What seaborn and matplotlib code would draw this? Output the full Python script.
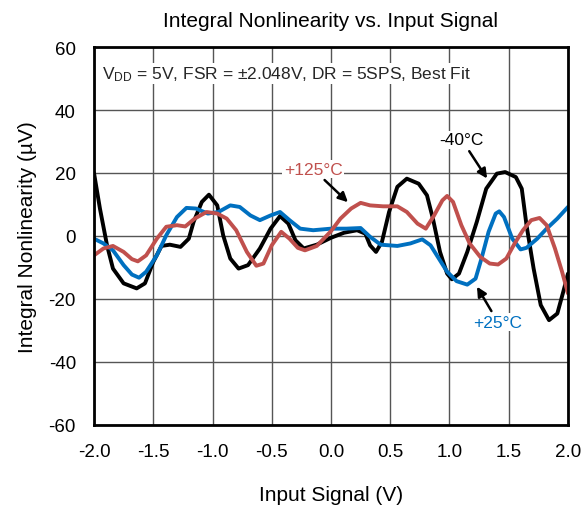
import pandas as pd
import seaborn as sns
import matplotlib.pyplot as plt

# Values (input signal in V, INL in uV)
x_m40 = [-2.00, -1.95, -1.89, -1.84, -1.75, -1.64, -1.57, -1.50, -1.43, -1.36,
         -1.27, -1.20, -1.16, -1.09, -1.03, -0.96, -0.91, -0.85, -0.78, -0.70,
         -0.60, -0.51, -0.43, -0.36, -0.30, -0.23, -0.12, 0.00, 0.11, 0.22,
         0.29, 0.33, 0.38, 0.43, 0.49, 0.56, 0.64, 0.74, 0.81, 0.86, 0.92,
         0.98, 1.02, 1.08, 1.15, 1.23, 1.31, 1.40, 1.47, 1.56, 1.61, 1.65,
         1.71, 1.77, 1.84, 1.91, 1.96, 2.00]
y_m40 = [20.0, 8.7, -3.0, -10.4, -15.1, -16.7, -15.1, -8.3, -3.2, -2.8,
         -3.5, -0.9, 4.4, 10.8, 13.1, 9.7, 0.2, -7.2, -10.4, -9.3,
         -4.0, 2.3, 6.3, 3.9, -1.4, -4.0, -2.8, -0.6, 1.0, 1.8,
         0.7, -3.0, -5.1, -1.9, 7.6, 15.6, 18.2, 16.6, 12.9, 5.5, -5.1,
         -12.0, -13.8, -12.0, -5.1, 4.4, 15.0, 19.8, 20.3, 18.7, 15.0, 3.4,
         -10.4, -22.0, -26.8, -24.7, -17.8, -12.0]

x_25 = [-2.00, -1.92, -1.84, -1.75, -1.68, -1.62, -1.56, -1.47, -1.39, -1.30,
        -1.22, -1.14, -1.04, -0.95, -0.85, -0.77, -0.68, -0.60, -0.51, -0.43,
        -0.35, -0.26, -0.15, 0.00, 0.13, 0.25, 0.33, 0.42, 0.56, 0.67,
        0.77, 0.84, 0.91, 0.98, 1.06, 1.15, 1.22, 1.27, 1.33, 1.39,
        1.42, 1.46, 1.53, 1.60, 1.65, 1.74, 1.82, 1.91, 2.00]
y_25 = [-0.9, -2.4, -4.6, -9.3, -12.3, -13.3, -11.4, -6.2, 0.2, 6.0,
        8.9, 8.7, 7.1, 7.6, 9.7, 9.2, 6.5, 5.0, 6.5, 7.6,
        5.0, 2.3, 1.8, 2.3, 2.3, 2.5, -0.3, -2.8, -3.2, -2.4,
        -1.1, -3.0, -7.2, -11.4, -14.4, -15.5, -13.6, -7.2, 1.3, 7.1,
        7.8, 6.0, -0.9, -4.3, -3.8, -0.9, 2.3, 5.5, 9.2]

x_125 = [-2.00, -1.92, -1.84, -1.75, -1.68, -1.63, -1.56, -1.47, -1.39, -1.30,
         -1.23, -1.15, -1.05, -0.96, -0.88, -0.80, -0.71, -0.63, -0.57, -0.50,
         -0.42, -0.35, -0.28, -0.22, -0.12, 0.00, 0.08, 0.17, 0.25, 0.33,
         0.44, 0.56, 0.64, 0.73, 0.80, 0.87, 0.94, 0.98, 1.03, 1.10,
         1.17, 1.26, 1.34, 1.41, 1.48, 1.55, 1.62, 1.69, 1.76, 1.82,
         1.89, 1.95, 2.00]
y_125 = [-6.2, -4.0, -3.2, -5.1, -7.4, -8.1, -6.2, -0.9, 2.9, 3.4,
         3.0, 5.5, 7.6, 7.1, 5.5, 1.8, -5.1, -9.5, -8.8, -3.0,
         1.3, -0.9, -3.8, -4.6, -3.2, 1.5, 5.5, 8.7, 10.5, 9.7,
         9.4, 9.4, 7.6, 3.9, 2.3, 6.5, 11.3, 12.7, 10.8, 3.4,
         -2.4, -6.7, -8.8, -9.1, -7.2, -2.4, 1.8, 5.0, 5.7, 3.4,
         -4.0, -11.4, -18.3]

series = ['-40°C', '+25°C', '+125°C']
colors = ['#000000', '#0070C0', '#C0504D']

df = pd.concat([
    pd.DataFrame({'v': x_m40, 'inl': y_m40, 'temp': '-40°C'}),
    pd.DataFrame({'v': x_25, 'inl': y_25, 'temp': '+25°C'}),
    pd.DataFrame({'v': x_125, 'inl': y_125, 'temp': '+125°C'}),
])

sns.set_theme(style='white')
plt.rcParams['font.family'] = ['Liberation Sans', 'DejaVu Sans']
plt.rcParams['mathtext.fontset'] = 'custom'
plt.rcParams['mathtext.rm'] = 'Liberation Sans'
plt.rcParams['axes.unicode_minus'] = False

fig = plt.figure(figsize=(5.81, 5.06), dpi=100)
ax = fig.add_axes([0.1618, 0.159, 0.8158, 0.7457])

sns.lineplot(data=df, x='v', y='inl', hue='temp', hue_order=series,
             palette=dict(zip(series, colors)), sort=False, estimator=None,
             linewidth=2.8, legend=False, ax=ax, zorder=3)
for line in ax.get_lines():
    line.set_solid_joinstyle('round')
    line.set_solid_capstyle('round')

ax.set_xlim(-2.0, 2.0)
ax.set_ylim(-60, 60)
ax.set_xticks([-2.0, -1.5, -1.0, -0.5, 0.0, 0.5, 1.0, 1.5, 2.0])
ax.set_xticklabels(['-2.0', '-1.5', '-1.0', '-0.5', '0.0', '0.5', '1.0', '1.5', '2.0'])
ax.set_yticks(range(-60, 61, 20))
ax.grid(True, color='#555555', linewidth=1.0)
ax.tick_params(length=0, labelsize=13.5, colors='black')
ax.tick_params(axis='x', pad=13)
ax.tick_params(axis='y', pad=13)
for s in ax.spines.values():
    s.set_color('black')
    s.set_linewidth(2.0)
    s.set_zorder(5)

ax.set_xlabel('Input Signal (V)', fontsize=15, labelpad=18, color='black')
ax.set_ylabel('Integral Nonlinearity (µV)', fontsize=15, labelpad=8, color='black')
ax.set_title('Integral Nonlinearity vs. Input Signal', fontsize=15, pad=15, color='black')

box = dict(facecolor='white', edgecolor='none', pad=1)
ax.text(-1.93, 51.7, r'$\mathregular{V_{DD}}$ = 5V, FSR = ±2.048V, DR = 5SPS, Best Fit',
        fontsize=12.5, va='center', ha='left', bbox=box, zorder=4)

arrow = dict(arrowstyle='-|>', color='black', lw=1.8, mutation_scale=14)
ax.annotate('-40°C', xy=(1.33, 17.5), xytext=(1.105, 30.5), fontsize=12.5,
            ha='center', va='center', color='black', arrowprops=arrow,
            bbox=box, zorder=4)
ax.annotate('+125°C', xy=(0.16, 10.1), xytext=(-0.15, 21.2), fontsize=12.5,
            ha='center', va='center', color=colors[2], arrowprops=arrow,
            bbox=box, zorder=4)
ax.annotate('+25°C', xy=(1.22, -15.4), xytext=(1.41, -27.5), fontsize=12.5,
            ha='center', va='center', color=colors[1], arrowprops=arrow,
            bbox=box, zorder=4)

fig.savefig('out.png', dpi=100)
